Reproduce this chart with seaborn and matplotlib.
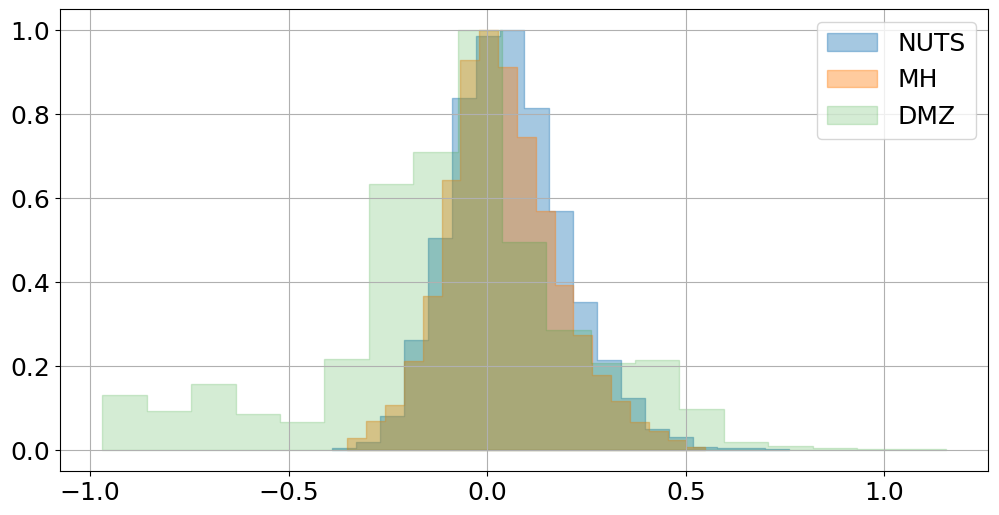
import numpy as np
import pandas as pd
import matplotlib
matplotlib.use("Agg")
import matplotlib.pyplot as plt
import seaborn as sns
from matplotlib.colors import to_rgba

# ---- data (normalised histogram heights) ----
labels = ["NUTS", "MH", "DMZ"]

nuts_start, nuts_width = -0.391, 0.0606
nuts_heights = [0.006, 0.020, 0.080, 0.263, 0.505, 0.838, 0.986, 1.000, 0.814,
                0.569, 0.353, 0.214, 0.125, 0.050, 0.030, 0.008, 0.006, 0.004, 0.003]

mh_start, mh_width = -0.352, 0.04743
mh_heights = [0.028, 0.070, 0.108, 0.213, 0.367, 0.643, 0.930, 1.000, 0.913,
              0.745, 0.569, 0.394, 0.273, 0.178, 0.116, 0.066, 0.046, 0.024, 0.007]

dmz_start, dmz_width = -0.969, 0.11177
dmz_heights = [0.132, 0.092, 0.157, 0.086, 0.067, 0.218, 0.634, 0.709, 1.000,
               0.495, 0.287, 0.208, 0.215, 0.097, 0.018, 0.009, 0.005, 0.002, 0.002]

series = [
    ("NUTS", nuts_start, nuts_width, nuts_heights, "#1f77b4", 0.4),
    ("MH", mh_start, mh_width, mh_heights, "#ff7f0e", 0.4),
    ("DMZ", dmz_start, dmz_width, dmz_heights, "#2ca02c", 0.2),
]

plt.rcParams["font.family"] = ["DejaVu Sans"]
fig = plt.figure(figsize=(9.99, 5.15), dpi=100)
ax = fig.add_axes([0.0596, 0.0854, 0.9294, 0.8966])

for name, start, width, heights, color, alpha in series:
    n = len(heights)
    edges = [float(start + width * i) for i in range(n + 1)]
    centers = [(edges[i] + edges[i + 1]) / 2 for i in range(n)]
    df = pd.DataFrame({"x": centers, "w": heights})
    sns.histplot(data=df, x="x", weights="w", bins=edges, element="step",
                 fill=True, stat="count", ax=ax, label=name,
                 facecolor=to_rgba(color, alpha),
                 edgecolor=to_rgba(color, alpha), linewidth=1.0)

ax.set_xlim(-1.077, 1.261)
ax.set_ylim(-0.05, 1.05)
ax.set_xlabel("")
ax.set_ylabel("")
ax.set_xticks([-1.0, -0.5, 0.0, 0.5, 1.0])
ax.set_yticks([0.0, 0.2, 0.4, 0.6, 0.8, 1.0])
ax.tick_params(labelsize=18)
ax.grid(True, color="#b0b0b0", linewidth=0.8)
ax.legend(loc="upper right", fontsize=18)

fig.savefig("out.png", dpi=100)
